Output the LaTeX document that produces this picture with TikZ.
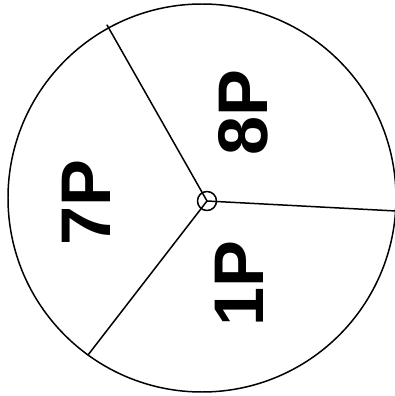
\documentclass[tikz,border=0pt]{standalone}
\usepackage{fontspec}
\setmainfont{Liberation Sans}
\begin{document}
\begin{tikzpicture}[x=0.02cm, y=0.02cm, line cap=round, line join=round]
  \tikzset{sector/.style={font=\fontsize{40}{40}\selectfont\bfseries, rotate=90, inner sep=0pt}}
  \useasboundingbox (0,0) rectangle (395,396);
  \draw[line width=0.85pt] (202,198) circle (194);
  \node[draw, circle, line width=0.85pt, minimum size=19*0.02cm, inner sep=0pt] (hub) at (207,195) {};
  \coordinate (top) at (107,371);
  \coordinate (right) at (396,185);
  \coordinate (left) at (88,41);
  \draw[line width=0.85pt] (hub.center) -- (top);
  \draw[line width=0.85pt] (hub.center) -- (right);
  \draw[line width=0.85pt] (hub.center) -- (left);
  \node[sector] (p8) at (243,283) {8P};
  \node[sector] (p7) at (86,193) {7P};
  \node[sector] (p1) at (239,112) {1P};
\end{tikzpicture}
\end{document}
